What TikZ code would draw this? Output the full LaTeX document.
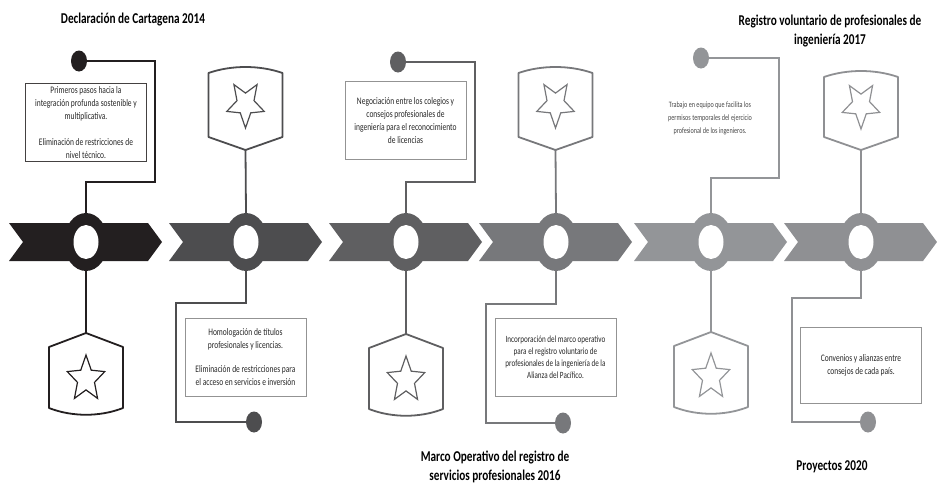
\documentclass[tikz,border=0pt]{standalone}
\usepackage{fontspec}
\setmainfont{Carlito}[FakeStretch=0.75]
\usetikzlibrary{shapes.geometric}
\definecolor{tone1}{HTML}{231F20}
\definecolor{tone2}{HTML}{4D4D4F}
\definecolor{tone3}{HTML}{5F5F61}
\definecolor{tone4}{HTML}{77787B}
\definecolor{tone5}{HTML}{939598}
\definecolor{tone6}{HTML}{8F9093}
\definecolor{ink}{HTML}{262626}
\begin{document}
\begin{tikzpicture}[x=1pt,y=-1pt,
        link/.style={line width=1.8pt},
        crestline/.style={line width=1.8pt,line join=round},
        ring/.style={ellipse,inner sep=0pt,minimum width=44pt,minimum height=58pt},
        hole/.style={ellipse,fill=white,inner sep=0pt,minimum width=25pt,minimum height=34pt},
        dot/.style={ellipse,inner sep=0pt,minimum width=16pt,minimum height=21pt},
        infobox/.style={draw,line width=0.8pt,minimum width=121pt,minimum height=78pt,
            align=center,text=ink,font=\fontsize{10}{13}\selectfont},
        emblem/.style={star,star points=5,star point ratio=2.2,draw,line width=1.2pt,
            minimum size=48pt,inner sep=0pt,xscale=0.82,transform shape},
        heading/.style={align=center,font=\fontsize{15}{19}\selectfont\bfseries}]
    \useasboundingbox (0,0) rectangle (937,483);

    \foreach \c/\tone [count=\i] in {86/tone1,246/tone2,406/tone3,556/tone4,711/tone5,861/tone6}{
        \fill[\tone] (\c-77,223) -- (\c+62,223) -- (\c+76,242) -- (\c+62,261)
            -- (\c-77,261) -- (\c-63,242) -- cycle;
        \node[ring,fill=\tone] (ring\i) at (\c,242) {};
        \node[hole] (hole\i) at (ring\i) {};
    }

    \node[heading] (title1) at (133,20) {Declaración de Cartagena 2014};
    \node[heading] (title2) at (495,467) {Marco Operativo del registro de\\servicios profesionales 2016};
    \node[heading] (title3) at (830,31) {Registro voluntario de profesionales de\\ingeniería 2017};
    \node[heading] (title4) at (832,467) {Proyectos 2020};

    \node[infobox,draw=tone1!85] (box1) at (86,122.5) {Primeros pasos hacia la\\
        integración profunda sostenible y\\multiplicativa.\\[13pt]
        Eliminación de restricciones de\\nivel técnico.};
    \node[dot,fill=tone1] (dot1) at (79,61) {};
    \draw[link,tone1] (dot1.east) -| (155,182) -| (ring1.north);
    \draw[crestline,tone1,shift={(86,0)}] (0,333) -- (37,347) -- (37,408)
        .. controls (14,417) and (-14,417) .. (-37,408) -- (-37,347) -- cycle;
    \coordinate (crest1) at (86,333);
    \node[emblem,draw=tone1] (star1) at (86,379) {};
    \draw[link,tone1] (ring1.south) -- (crest1);

    \draw[crestline,tone2,shift={(245.5,0)}] (-37,73) .. controls (-14,65) and (14,65) .. (37,73)
        -- (37,137) -- (0,150) -- (-37,137) -- cycle;
    \coordinate (crest2) at (245.5,150);
    \node[emblem,draw=tone2,shape border rotate=180] (star2) at (245.5,104) {};
    \draw[link,tone2] (crest2) -- (ring2.north);
    \node[infobox,draw=gray!85] (box2) at (245.5,357.5) {Homologación de títulos\\
        profesionales y licencias.\\[11pt]
        Eliminación de restricciones para\\el acceso en servicios e inversión};
    \node[dot,fill=tone2] (dot2) at (254,422) {};
    \draw[link,tone2] (ring2.south) |- (176,303) |- (dot2.west);

    \node[infobox,draw=gray!85] (box3) at (405.5,120.5) {Negociación entre los colegios y\\
        consejos profesionales de\\ingeniería para el reconocimiento\\de licencias};
    \node[dot,fill=tone3] (dot3) at (398,62) {};
    \draw[link,tone3] (dot3.east) -| (475,182) -| (ring3.north);
    \draw[crestline,tone3,shift={(406,0)}] (0,334) -- (37,348) -- (37,409)
        .. controls (14,418) and (-14,418) .. (-37,409) -- (-37,348) -- cycle;
    \coordinate (crest3) at (406,334);
    \node[emblem,draw=tone3] (star3) at (406,380) {};
    \draw[link,tone3] (ring3.south) -- (crest3);

    \draw[crestline,tone4,shift={(555.5,0)}] (-37,73) .. controls (-14,65) and (14,65) .. (37,73)
        -- (37,137) -- (0,150) -- (-37,137) -- cycle;
    \coordinate (crest4) at (555.5,150);
    \node[emblem,draw=tone4,shape border rotate=180] (star4) at (555.5,104) {};
    \draw[link,tone4] (crest4) -- (ring4.north);
    \node[infobox,draw=gray!85,font=\fontsize{9.5}{12}\selectfont] (box4) at (555.5,357.5) {Incorporación del marco operativo\\
        para el registro voluntario de\\profesionales de la ingeniería de la\\Alianza del Pacífico.};
    \node[dot,fill=tone4] (dot4) at (563,423) {};
    \draw[link,tone4] (ring4.south) |- (486,304) |- (dot4.west);

    \node[align=center,text=ink!85,font=\fontsize{8.2}{13}\selectfont] (note5) at (710,118) {Trabajo en equipo que facilita los\\
        permisos temporales del ejercicio\\profesional de los ingenieros.};
    \node[dot,fill=tone5] (dot5) at (701,58) {};
    \draw[link,tone5] (dot5.east) -| (779,178) -| (ring5.north);
    \draw[crestline,tone5,shift={(711,0)}] (0,332) -- (37,346) -- (37,407)
        .. controls (14,416) and (-14,416) .. (-37,407) -- (-37,346) -- cycle;
    \coordinate (crest5) at (711,332);
    \node[emblem,draw=tone5] (star5) at (711,377) {};
    \draw[link,tone5] (ring5.south) -- (crest5);

    \draw[crestline,tone6,shift={(861,0)}] (-37,77) .. controls (-14,69) and (14,69) .. (37,77)
        -- (37,137) -- (0,150) -- (-37,137) -- cycle;
    \coordinate (crest6) at (861,150);
    \node[emblem,draw=tone6,shape border rotate=180] (star6) at (861,105) {};
    \draw[link,tone6] (crest6) -- (ring6.north);
    \node[infobox,draw=gray!85,minimum height=76pt] (box6) at (861,365) {Convenios y alianzas entre\\
        consejos de cada país.};
    \node[dot,fill=tone6] (dot6) at (868,422) {};
    \draw[link,tone6] (ring6.south) |- (792,298) |- (dot6.west);
\end{tikzpicture}
\end{document}
